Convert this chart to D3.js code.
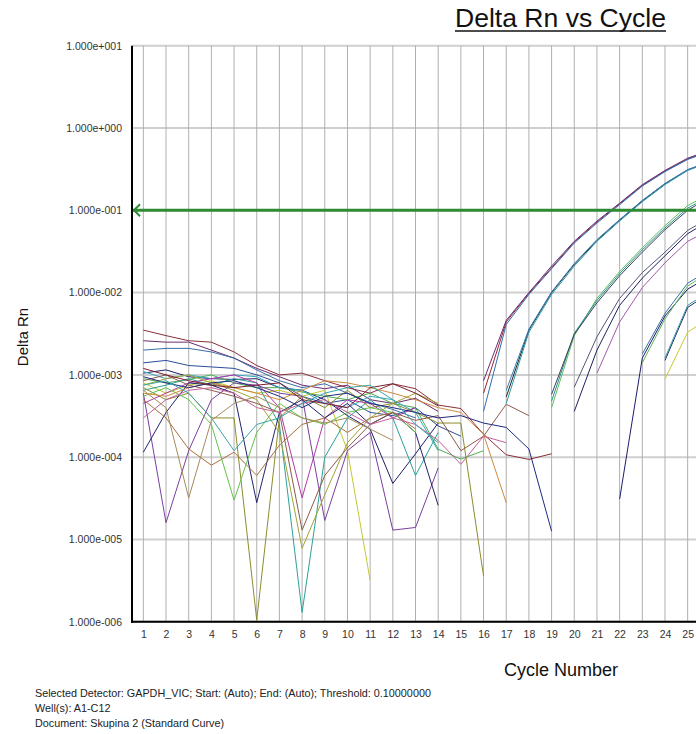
<!DOCTYPE html>
<html><head><meta charset="utf-8">
<script src="https://cdn.jsdelivr.net/npm/d3@7"></script>
<style>
body{margin:0;background:#fff;}
svg{display:block;font-family:"Liberation Sans",Arial,sans-serif;}
</style>
</head><body>
<svg id="chart" width="696" height="734"></svg>
<script>
// ---------------- DATA ----------------
const cycles = [1,2,3,4,5,6,7,8,9,10,11,12,13,14,15,16,17,18,19,20,21,22,23,24,25,26];
const xTickLabels = ["1","2","3","4","5","6","7","8","9","10","11","12","13","14","15","16","17","18","19","20","21","22","23","24","25"];
const yTickValues = [10, 1, 0.1, 0.01, 0.001, 0.0001, 0.00001, 0.000001];
const yTickLabels = ["1.000e+001","1.000e+000","1.000e-001","1.000e-002","1.000e-003","1.000e-004","1.000e-005","1.000e-006"];
const threshold = 0.1;

// baseline portions (start at cycle 1)
const baseCurves = [
 [3.5e-3,3.0e-3,2.6e-3,2.5e-3,1.9e-3,1.3e-3,1.0e-3,1.05e-3,8.5e-4,7.0e-4,6.0e-4,7.8e-4,6.8e-4,4.3e-4,3.9e-4,1.9e-4,1.07e-4,9.4e-5,1.1e-4],
 [2.6e-3,2.5e-3,2.5e-3,2.0e-3,1.6e-3,1.2e-3,9.5e-4,7.5e-4,6.8e-4,7.5e-4,5.0e-4,4.5e-4,5.2e-4,3.6e-4],
 [2.0e-3,2.1e-3,2.1e-3,1.9e-3,1.6e-3,1.15e-3,8.5e-4,7.0e-4,7.8e-4,6.0e-4,4.6e-4,3.8e-4,3.0e-4],
 [1.4e-3,1.5e-3,1.3e-3,1.25e-3,1.2e-3,1.0e-3,8.0e-4,5.5e-4,4.5e-4,5.0e-4,3.5e-4,3.2e-4,4.0e-4,2.4e-4,1.8e-4],
 [1.05e-3,1.15e-3,9.5e-4,9.0e-4,8.8e-4,9.0e-4,7.0e-4,6.5e-4,5.0e-4,3.2e-4,2.2e-4,4.8e-5,1.1e-4,2.6e-4],
 [9.0e-4,8.0e-4,8.8e-4,1.0e-3,8.0e-4,7.0e-4,7.0e-4,6.2e-4,5.5e-4,5.0e-4,6.0e-4,4.5e-4,4.0e-4,1.25e-4,9.5e-5,1.2e-4],
 [8.0e-4,6.0e-4,7.5e-4,8.5e-4,7.0e-4,6.0e-4,6.5e-4,5.5e-4,6.5e-4,1.2e-4,3.2e-6],
 [6.5e-4,7.5e-4,9.0e-4,7.5e-4,9.0e-4,8.0e-4,2.5e-4,1.3e-6,1.0e-4,3.0e-4,5.0e-4,3.0e-4,6.0e-5,2.0e-4],
 [1.1e-3,9.0e-4,1.0e-3,9.0e-4,1.0e-3,9.5e-4,7.0e-4,6.5e-4,4.5e-4,4.0e-4,5.5e-4,5.0e-4,3.5e-4,1.2e-4],
 [7.0e-4,5.0e-4,6.0e-4,3.0e-4,3.0e-4,1.05e-6,3.0e-4,5.5e-4,4.0e-4,6.5e-4,4.0e-4,4.5e-4,3.5e-4,2.6e-4,2.6e-4,3.6e-6],
 [4.5e-4,6.0e-4,8.0e-4,9.0e-4,1.0e-3,8.0e-4,4.0e-4,3.2e-5,3.0e-4,5.0e-4,4.5e-4,3.0e-4,4.0e-4],
 [6.0e-4,1.6e-5,1.2e-4,5.0e-4,8.0e-4,7.5e-4,6.0e-4,5.5e-4,1.7e-5,1.2e-4,2.0e-4,1.3e-5,1.4e-5,7.4e-5],
 [1.15e-4,3.5e-4,8.0e-4,7.5e-4,6.0e-4,2.8e-5,3.5e-4,5.0e-4,3.0e-4,4.5e-4,2.5e-4,3.5e-4,2.0e-4,2.6e-5],
 [5.0e-4,3.0e-4,1.26e-4,8.0e-5,1.15e-4,6.0e-5,1.4e-4,2.5e-4,3.0e-4,2.0e-4,3.0e-4,3.5e-4,2.2e-4],
 [5.5e-4,7.0e-4,5.0e-4,2.5e-4,3.0e-5,2.0e-4,4.5e-4,3.0e-4,2.5e-4,3.5e-4,4.0e-4,3.5e-4,2.0e-4],
 [7.5e-4,9.0e-4,1.0e-3,8.0e-4,6.5e-4,5.0e-4,2.0e-4,7.8e-6,3.5e-5,1.5e-4,3.0e-4,4.5e-4,6.0e-4,4.5e-4],
 [8.5e-4,1.0e-3,7.5e-4,6.5e-4,5.5e-4,4.5e-4,3.5e-4,1.3e-5,6.0e-5,1.3e-4,2.5e-4,3.5e-4,2.8e-4,3.2e-4,1.2e-4,1.8e-4,4.4e-4,3.2e-4],
 [3.0e-4,5.0e-4,6.5e-4,7.0e-4,6.0e-4,4.0e-4,3.5e-4,4.5e-4,5.0e-4,3.5e-4,2.5e-4,3.0e-4,2.5e-4,1.6e-4,8.2e-5,1.8e-4,1.5e-4],
 [6.0e-4,5.5e-4,7.0e-4,8.0e-4,7.0e-4,6.0e-4,5.0e-4,6.5e-4,8.5e-4,8.0e-4,7.0e-4,6.0e-4,5.0e-4,4.0e-4,3.5e-4,1.9e-4,2.8e-5],
 [9.5e-4,8.0e-4,7.0e-4,8.0e-4,8.5e-4,7.0e-4,5.5e-4,4.0e-4,5.5e-4,6.0e-4,4.5e-4,4.0e-4,3.5e-4,3.0e-4,3.2e-4,2.6e-4,2.3e-4,1.26e-4,1.26e-5],
 [1.2e-3,1.0e-3,8.5e-4,7.5e-4,7.0e-4,7.5e-4,8.0e-4,5.0e-4,4.5e-4,4.0e-4,7.0e-4,7.8e-4,6.0e-4,4.2e-4],
 [7.5e-4,8.5e-4,6.0e-4,3.0e-4,1.2e-4,2.5e-4,3.0e-4,4.5e-4,6.0e-4,7.0e-4,7.5e-4,5.0e-4,2.5e-4,1.5e-4],
 [6.5e-4,4.0e-4,3.2e-5,2.8e-4,4.5e-4,5.5e-4,4.0e-4,3.0e-4,2.6e-4,3.0e-4,2.2e-4,1.6e-4]
];
const baseColors = ["#8b2f3a","#6e2c70","#3a6ea5","#2b4d9b","#1f1f66","#4caf50","#c2c832","#2aa198","#33a9c4","#8c8c2c","#b23aa6","#7a3f9e","#23236e","#a8703c","#62c24a","#a3a336","#8d5a4a","#c4609a","#d08a40","#1e2a80","#7a1f2e","#3aa6a6","#a88a5a"];

// amplification portions: first cycle + values
const ampStarts = [16,16,16,17,17,17,19,19,19,20,20,21,22,23,23,24,24,24];
const ampCurves = [
 [6.0e-4,4.4e-3,9.8e-3,2.0e-2,4.1e-2,7.2e-2,1.2e-1,2.0e-1,3.0e-1,4.2e-1,5.3e-1],
 [8.5e-4,4.6e-3,1.0e-2,2.1e-2,4.2e-2,7.4e-2,1.22e-1,2.05e-1,3.05e-1,4.3e-1,5.4e-1],
 [3.6e-4,4.1e-3,9.5e-3,1.95e-2,4.0e-2,7.0e-2,1.17e-1,1.97e-1,2.95e-1,4.15e-1,5.2e-1],
 [5.4e-4,3.5e-3,1.0e-2,2.2e-2,4.3e-2,7.6e-2,1.3e-1,2.1e-1,3.1e-1,3.9e-1],
 [4.5e-4,3.3e-3,9.5e-3,2.1e-2,4.2e-2,7.4e-2,1.27e-1,2.05e-1,3.05e-1,3.85e-1],
 [6.5e-4,3.6e-3,1.02e-2,2.25e-2,4.4e-2,7.7e-2,1.32e-1,2.12e-1,3.12e-1,3.95e-1],
 [4.0e-4,3.0e-3,8.5e-3,1.8e-2,3.5e-2,6.5e-2,1.14e-1,1.6e-1],
 [4.8e-4,3.2e-3,8.0e-3,1.7e-2,3.3e-2,6.1e-2,1.06e-1,1.5e-1],
 [5.8e-4,3.1e-3,7.5e-3,1.6e-2,3.1e-2,5.8e-2,1.0e-1,1.45e-1],
 [3.6e-4,2.0e-3,7.0e-3,1.5e-2,2.8e-2,5.2e-2,7.6e-2],
 [7.1e-4,2.9e-3,8.5e-3,1.75e-2,3.1e-2,5.7e-2,8.2e-2],
 [1.05e-3,4.4e-3,1.15e-2,2.3e-2,4.2e-2,5.8e-2],
 [3.1e-5,1.6e-3,5.2e-3,1.1e-2,1.6e-2],
 [1.4e-3,4.8e-3,1.2e-2,1.8e-2],
 [1.8e-3,5.6e-3,1.3e-2,1.9e-2],
 [1.5e-3,6.6e-3,1.0e-2],
 [1.6e-3,7.0e-3,1.05e-2],
 [8.9e-4,3.3e-3,5.0e-3]
];
const ampColors = ["#9b2335","#6b2d73","#2f6fb0","#222222","#2a9aa0","#3b7bbf","#5cbf5c","#2a8f8f","#404060","#1e2060","#555577","#a05aa8","#1c1c6e","#5cb85c","#3b6fa0","#1c2a6e","#3a9aa0","#c8c832"];

// ---------------- CHART ----------------
const svg = d3.select("#chart");
const plotLeft = 132, plotTop = 45.7, plotBottom = 621.8;
const step = 22.68;
const x = d3.scaleLinear().domain([0.5, 40.5]).range([plotLeft, plotLeft + 40 * step]);
const y = d3.scaleLog().domain([1e-6, 10]).range([plotBottom, plotTop]);

svg.append("defs").append("clipPath").attr("id","plotclip")
  .append("rect").attr("x", plotLeft).attr("y", plotTop).attr("width", 1000).attr("height", plotBottom - plotTop);

// horizontal grid
svg.append("g").selectAll("line").data(yTickValues).join("line")
  .attr("x1", plotLeft).attr("x2", 696).attr("y1", d => y(d)).attr("y2", d => y(d))
  .attr("stroke", "#cfcfcf").attr("stroke-width", 2);
// vertical grid
svg.append("g").selectAll("line").data(cycles).join("line")
  .attr("x1", d => x(d)).attr("x2", d => x(d)).attr("y1", plotTop).attr("y2", plotBottom)
  .attr("stroke", "#b0b0b0").attr("stroke-width", 1);

const line = d3.line().defined(d => d[1] != null).x(d => x(d[0])).y(d => y(d[1]));
const curves = svg.append("g").attr("clip-path", "url(#plotclip)").attr("fill", "none").attr("stroke-width", 1);

baseCurves.forEach((vals, i) => {
  curves.append("path").attr("d", line(vals.map((v, k) => [cycles[k], v])))
    .attr("stroke", baseColors[i]);
});
ampCurves.forEach((vals, i) => {
  curves.append("path").attr("d", line(vals.map((v, k) => [ampStarts[i] + k, v])))
    .attr("stroke", ampColors[i]);
});

// threshold
svg.append("line").attr("x1", plotLeft + 1).attr("x2", 696).attr("y1", y(threshold)).attr("y2", y(threshold))
  .attr("stroke", "#2e8b34").attr("stroke-width", 3);
svg.append("polyline")
  .attr("points", `${plotLeft+8},${y(threshold)-6} ${plotLeft+2},${y(threshold)} ${plotLeft+8},${y(threshold)+6}`)
  .attr("fill","none").attr("stroke","#2e8b34").attr("stroke-width",2);

// axes
const yAxis = d3.axisLeft(y).tickValues(yTickValues).tickFormat((d, i) => yTickLabels[i]).tickSize(0).tickPadding(10);
const gy = svg.append("g").attr("transform", `translate(${plotLeft},0)`).call(yAxis);
gy.select(".domain").remove();
gy.selectAll("text").attr("font-size", 10.5).attr("fill", "#333").attr("font-family", "Liberation Sans, Arial, sans-serif");

const xAxis = d3.axisBottom(x).tickValues(cycles.slice(0, xTickLabels.length)).tickFormat((d, i) => xTickLabels[i]).tickSize(0).tickPadding(9);
const gx = svg.append("g").attr("transform", `translate(0,${plotBottom})`).call(xAxis);
gx.select(".domain").remove();
gx.selectAll("text").attr("font-size", 10.5).attr("fill", "#333").attr("font-family", "Liberation Sans, Arial, sans-serif");

svg.append("line").attr("x1", plotLeft).attr("x2", plotLeft).attr("y1", plotTop).attr("y2", plotBottom + 1)
  .attr("stroke", "#000").attr("stroke-width", 2);
svg.append("line").attr("x1", plotLeft - 1).attr("x2", 696).attr("y1", plotBottom).attr("y2", plotBottom)
  .attr("stroke", "#000").attr("stroke-width", 2);

// titles
svg.append("text").attr("x", 455).attr("y", 27).attr("font-size", 25)
  .attr("textLength", 211).attr("lengthAdjust", "spacingAndGlyphs").attr("fill", "#111")
  .text("Delta Rn vs Cycle");
svg.append("line").attr("x1", 455).attr("x2", 666).attr("y1", 31).attr("y2", 31).attr("stroke", "#111").attr("stroke-width", 1.6);

svg.append("text").attr("transform", "translate(28,337) rotate(-90)").attr("text-anchor", "middle")
  .attr("font-size", 15).attr("fill", "#111").text("Delta Rn");
svg.append("text").attr("x", 561).attr("y", 676).attr("text-anchor", "middle")
  .attr("font-size", 18).attr("fill", "#111").text("Cycle Number");

const footer = ["Selected Detector: GAPDH_VIC; Start: (Auto); End: (Auto); Threshold: 0.10000000",
                "Well(s): A1-C12",
                "Document: Skupina 2 (Standard Curve)"];
svg.append("g").selectAll("text").data(footer).join("text")
  .attr("x", 35).attr("y", (d, i) => 697 + i * 15).attr("font-size", 10.8).attr("fill", "#222").text(d => d);
</script>
</body></html>
